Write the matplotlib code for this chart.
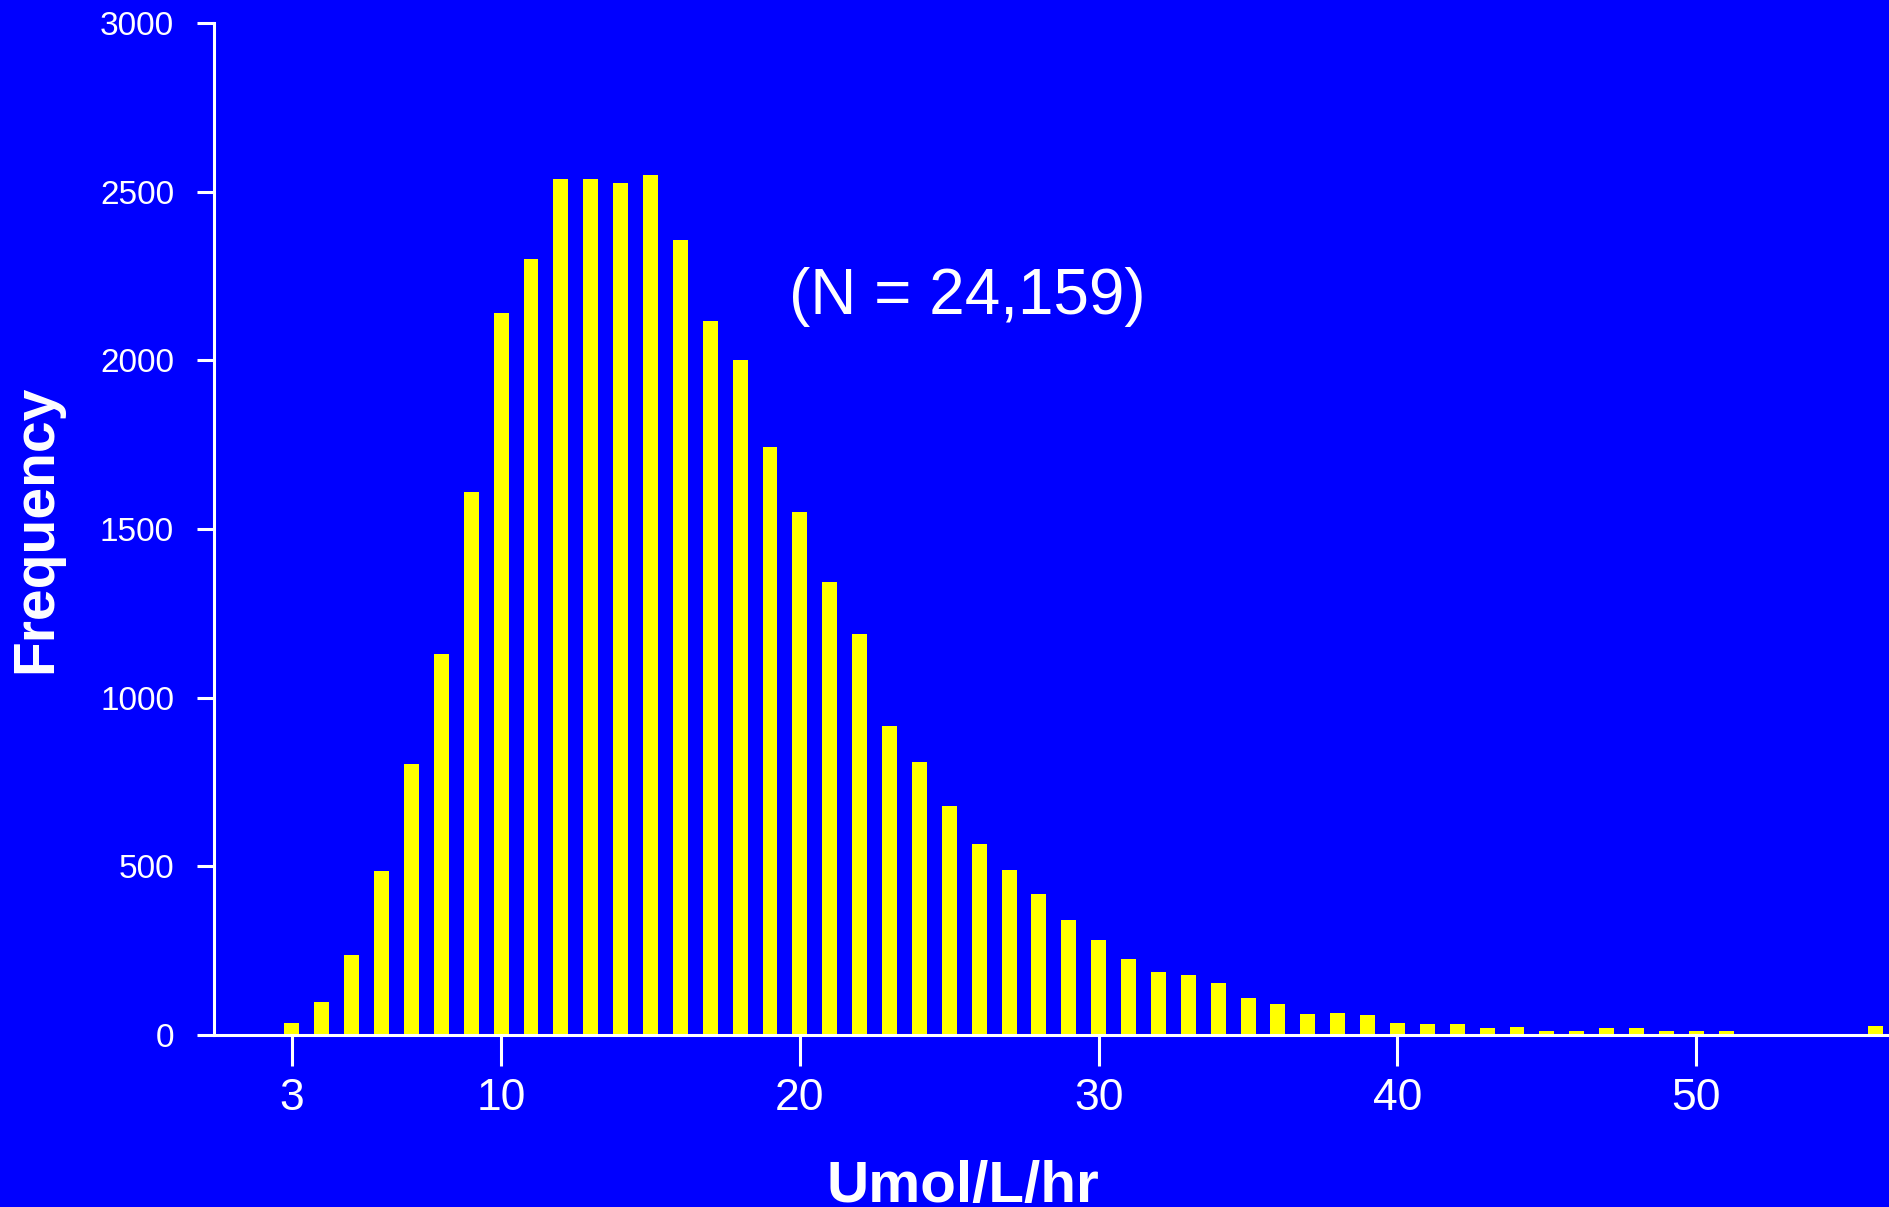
'''
Import libraries
'''
import numpy as np
import matplotlib.pyplot as plt

plt.rcParams['font.family'] = ['Liberation Sans', 'DejaVu Sans']

'''
Histogram data (bin centre, count)
'''
bins = [3, 4, 5, 6, 7, 8, 9, 10, 11, 12, 13, 14, 15, 16, 17, 18, 19, 20,
        21, 22, 23, 24, 25, 26, 27, 28, 29, 30, 31, 32, 33, 34, 35, 36, 37,
        38, 39, 40, 41, 42, 43, 44, 45, 46, 47, 48, 49, 50, 51, 56]
counts = [36, 98, 237, 486, 803, 1128, 1611, 2140, 2300, 2537, 2537, 2525,
          2549, 2356, 2116, 2001, 1743, 1550, 1343, 1189, 916, 809, 679, 566,
          489, 418, 341, 282, 225, 187, 178, 154, 110, 92, 62, 65, 59, 36, 33,
          33, 21, 24, 12, 12, 21, 21, 12, 12, 12, 27]
x_ticks = [3, 10, 20, 30, 40, 50]
y_ticks = [0, 500, 1000, 1500, 2000, 2500, 3000]
n_total = '24,159'

bg = '#0000FF'
bar_color = '#FFFF00'
fg = 'white'

fig = plt.figure(figsize=(18.89, 12.07), dpi=100, facecolor=bg)
ax = fig.add_axes([0.1135, 0.1425, 0.8865, 0.8385])
ax.set_facecolor(bg)

ax.bar(bins, counts, width=0.5, color=bar_color, linewidth=0, zorder=2)

ax.set_xlim(0.405, 56.45)
ax.set_ylim(0, 3000)
ax.set_xticks(x_ticks)
ax.set_yticks(y_ticks)

for side in ['top', 'right']:
    ax.spines[side].set_visible(False)
for side in ['left', 'bottom']:
    ax.spines[side].set_color(fg)
    ax.spines[side].set_linewidth(2.2)
    ax.spines[side].set_zorder(3)

ax.tick_params(axis='y', colors=fg, length=12, width=2.2, pad=17, labelsize=24)
ax.tick_params(axis='x', colors=fg, length=22, width=2.2, pad=9, labelsize=32)

'''
Labels and annotation
'''
ax.set_ylabel('Frequency', color=fg, fontsize=41, fontweight='bold')
ax.yaxis.set_label_coords(-0.0905, 0.5)
ax.set_xlabel('Umol/L/hr', color=fg, fontsize=42, fontweight='bold', va='top')
ax.xaxis.set_label_coords(0.4467, -0.124)

ax.text(25.6, 2188, '(N = {})'.format(n_total), color=fg, fontsize=46,
        ha='center', va='center')

fig.savefig('out.png', dpi=100, facecolor=bg)
